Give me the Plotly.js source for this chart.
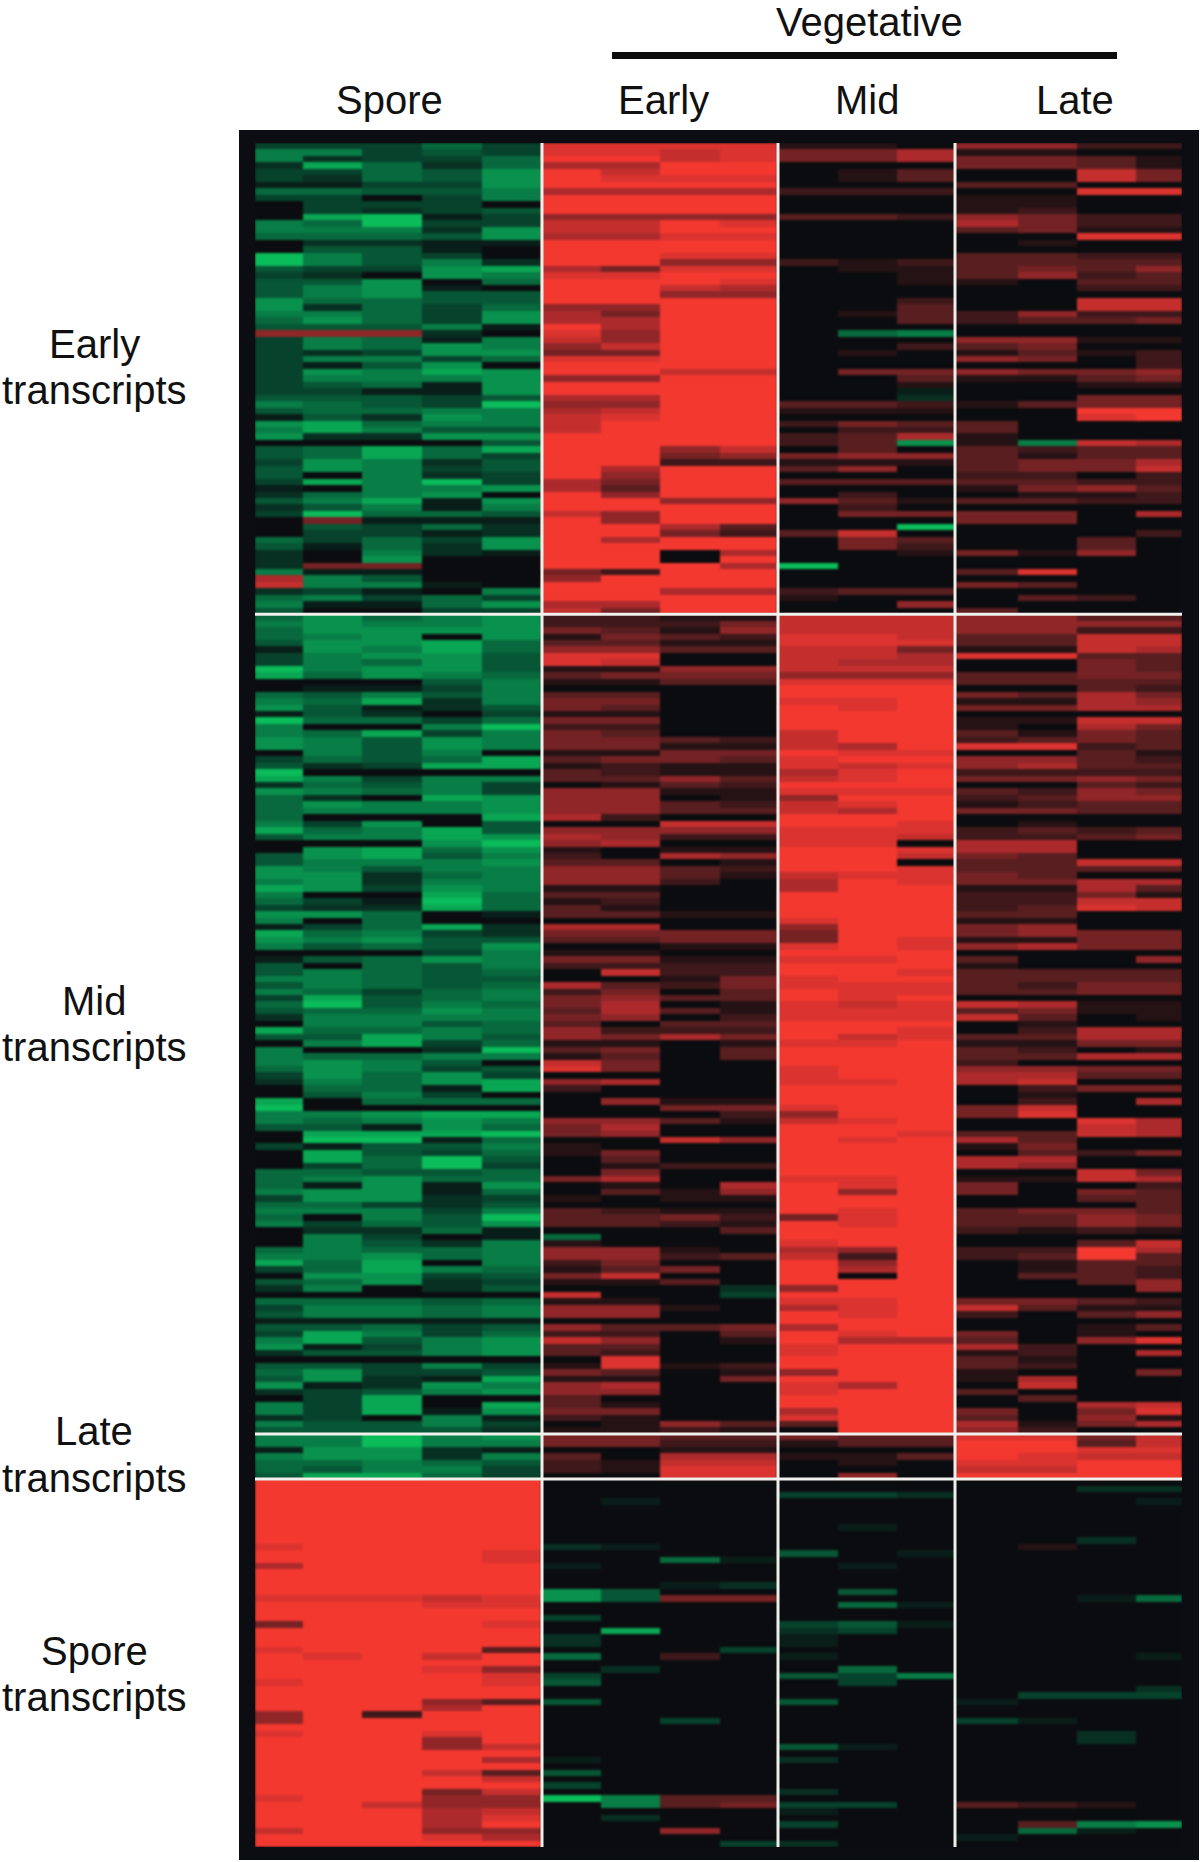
<!DOCTYPE html>
<html><head><meta charset="utf-8">
<script src="https://cdn.plot.ly/plotly-3.0.1.min.js"></script>
<style>html,body{margin:0;padding:0;background:#fff}#c{width:1200px;height:1862px}
#c .heatmaplayer image{filter:blur(0.8px)}</style>
</head><body><div id="c"></div>
<script>
// Each row: spore(5) early(4) mid(3) late(4). Digits 1-9 = red level, letters a-i = green level 1-9, 0 = black.
var earlyRows = [
"cccec 8888 110 5522","ffcdc 8878 446 1100","fbcce 9978 446 4431","bhebe 6699 000 4431","ccedg 9799 013 0074",
"cbedg 9888 013 0074","aaccg 9999 000 3300","eeddf 6666 222 0088","cc0cf 9999 000 1100","0ccc0 9999 000 1100",
"0cbcd 9999 000 1200","0hiac 5555 332 5422","feicc 7798 000 6422","fffbg 7799 000 3411","eeedg 6688 000 0088",
"0bbaa 9999 000 0100","0dda0 9999 000 0000","ifdc0 9988 000 3322","ifdfb 9955 212 3333","dccgh 6488 011 3435",
"cb0gf 8899 001 3523","ddg0e 9998 001 1033","dfga0 9976 000 0022","dfgdd 9955 000 0000","geedd 9999 002 0077",
"gbece 5599 003 0077","ffecg 6499 013 2522","egecg 6699 003 2334","dddfa 9699 000 0000","555b0 8599 0ef 0000",
"cfeaf 7599 000 5511","cfegf 5799 002 3400","cbcgg 4499 010 1312","cffce 8899 000 5402","cadg0 9999 000 0002",
"cgfhg 9977 044 5445","cfffg 5599 003 1134","cdeag 9999 001 0011","ccaag 9999 00a 0000","dddcd 6699 00b 0044",
"fedci 5599 332 1344","deeff 6799 111 0099","adbgf 7899 000 0089","gheff 7999 243 3000","fhfdd 7999 022 3000",
"gbbgg 9999 236 1000","0000d 9999 23g 1f76","deheh 9957 030 3233","dehec 9945 455 3133","cgfbd 9922 111 3446",
"dgfcd 9699 350 3447","d0fbc 9599 000 2202","chfic 6499 333 3322","a0ffg 6399 000 1453","befg0 9599 020 0112",
"dfhag 9955 531 3322","bdfaf 9999 020 0000","cieed 7599 044 4406","04aaa 9599 000 4400","0dceb 9963 00i 0000",
"0ccab 9942 370 0002","ececg 9699 043 0030","daebg 9999 042 0030","b0fba 9906 001 4150","b0g00 9909 000 0000",
"b4400 9996 i00 0000","faa00 4299 000 3800","6fd00 5999 000 0000","7ffa0 9999 000 4300","bca0f 9966 233 0000",
"efcec 9999 100 0320","faaeg 6699 005 0000","d00cc 7499 000 3000"
];
var midRows = [
"egefg 2211 777 5533","fgffg 2224 777 5555","egggg 4315 777 5522","efg0g 1432 887 3377","dgghe 3311 888 3377",
"agfhe 5533 774 1176","cfggd 8800 776 8833","cfegd 8700 766 0043","ifggd 1155 777 0043","hegfe 3444 555 3344",
"000df 1133 888 3333","0aacf 0000 999 0032","edfdf 3300 999 4364","fehbf 4400 889 1165","gdabd 4300 989 4466",
"adb0c 1100 999 0000","ieece 4400 999 1177","f00fi 2200 999 1064","fehcf 4300 799 3143","gfdgf 4432 799 2343",
"gfdgf 4411 769 8823","0fdf0 1144 988 0031","cedeh 3443 899 5532","dbchh 1211 878 5633","i0000 3211 689 2222",
"hfcff 3353 789 4454","bedfc 0132 999 0032","gfefc 5511 888 3254","eb0hg 5501 599 2355","egffg 5532 789 1233",
"efffg 5533 769 4433","e000h 6200 999 0000","fcg0d 0077 998 0100","hefhd 5555 888 2323","dffhg 6522 887 2234",
"000gi 5600 880 6600","0gheg 1011 998 6600","dghdf 2065 997 4300","dfffg 3301 990 3377","gfdff 5532 998 3333",
"ggbef 5531 788 4300","fgbff 5520 698 4466","hgcgf 1100 699 1163","f00he 3300 999 2241","ecaie 1200 999 2277",
"cbbhe 3100 999 2387","gge0a 3311 999 3300","f0e00 0000 899 1100","acehb 6600 599 4500","hefcb 4444 499 4544",
"gfgdd 3344 498 1144","fdedg 0011 898 5644","000cf 1100 999 0000","adegf 4411 889 3005","d0edf 2222 999 1000",
"dfede 0722 998 3333","ffedd 0014 899 3333","dfede 6324 888 3244","fecef 2403 988 3344","chdef 4533 989 0000",
"eidfe 4601 878 7611","deegf 3631 888 3411","bffff 4502 888 7301","0ffde 3033 999 0100","heefe 5222 998 0266",
"ddhfd 5464 978 3366","0fhce 1101 889 1144","f00bi 3403 999 3201","feeff 1303 999 3366","fgfd0 7400 999 2000",
"egfcd 8400 899 5544","cgegc 0000 899 6633","bfegh 5600 889 6700","0eeah 2000 999 0244","0dfc0 0000 999 0100",
"h0eee 0511 999 0206","i0000 0044 899 4700","ffghh 0002 599 4800","fefgf 5531 789 0086","ddage 4600 999 0076",
"0hhhi 4500 998 3376","0iiae 0075 989 6300","caddf 1000 999 1400","0hdce 1400 999 0324",
"0heid 0300 999 6600","0ceic 0122 999 6500","eedde 0400 999 0074","efgee 4600 889 1176","eagag 0106 989 4002",
"fggae 0315 959 4043","cggbc 1011 999 0033","eecbd 0000 999 0003","fffcf 3211 989 3443","e0fdi 3342 489 3354",
"fcedg 3321 989 3354","0bbea 0003 999 2121","0fc0a e000 999 0000","0fdbf 1000 899 0037","efeef 5510 659 2296",
"ffgef 5523 729 2393","heh0f 2400 959 0133","cehfe 1340 969 0132","0ggcd 4700 909 0332","degbc 1130 999 0035",
"bf0bd 000b 599 0005","00000 700c 999 0000","eeede 1100 889 4432","cffef 5510 689 7311","dffef 5500 989 2035",
"aaaaa 0000 999 0000","ddecd 5334 699 0013","chfce 2203 989 4010","fhdfg 7501 966 3058","gacfg 3300 899 6200",
"bddfg 3200 899 1206","00000 0800 999 3100","ddcfc 1812 999 3200","egccd 4301 599 1004","dgbah 1104 999 1600",
"gabgf 5600 869 0700","bcdfg 5500 899 3000","0ch00 3000 999 0300","fch0h 3100 999 0067",
"fchag 4400 699 4048","bc0fa 2100 899 3051","fddfc 0153 399 6146","ddddb 1121 099 5200"
];
var lateRows = [
"ffifg 4433 433 8847","ffiff 4422 133 9937","aggba 0011 000 9988","fggbf 3066 113 9877",
"eefed 2177 010 8899","edffc 2188 000 7799","dhhec 0088 050 9999"
];
var sporeRows = [
"99999 0000 000 0000","99999 0000 000 00bb","99999 0000 ccb 0000","99999 0a00 000 000a","99999 0000 000 0000",
"99999 0000 000 0000","99999 0000 000 0000","99999 0000 0a0 0000","99999 0000 000 0000","99999 0000 000 00b0",
"89999 ba00 000 0100","99998 0000 d0a 0000","99998 00ea 000 0000","69999 a000 0a0 0000","99999 0000 000 0000",
"99999 0000 000 0000","99999 00ab 000 0000","99999 gd00 0d0 0000","88878 gd44 000 00ae","99988 0000 0ea 0000",
"99999 0000 000 0000","99999 c000 000 0000","49998 0000 cda 0000","99999 0h00 bc0 0000","99999 b000 a00 0000",
"99999 b000 a00 0000","89993 000c 000 0000","98979 e020 a00 000a","99999 0000 000 0000","99985 0b00 0e0 0000",
"99998 c000 dcf 0000","89998 d000 0c0 0000","99999 0000 000 000b","99999 0000 000 0ccc","99953 d000 d00 a000",
"99969 0000 000 0000","59299 0000 000 0000","59999 00c0 000 ca00","99999 0000 000 0000","89989 0000 000 00b0",
"99959 0000 000 00b0","99957 0000 da0 0000","99999 0000 000 0000","99996 a000 b00 0000","99999 0000 000 0000",
"99973 d000 000 0000","99997 0000 000 0000","99999 c000 000 0000","99947 0000 b00 0000","89955 if33 000 0000",
"99755 0f34 cc0 3210","99967 0000 a00 0000","99968 0b00 000 0000","99969 0000 c00 03fg","79955 0050 000 0ea0",
"99986 0000 000 a000","99999 000c b00 0000"
];
var sideLabels = ["Early","transcripts","Mid","transcripts","Late","transcripts","Spore","transcripts"];
var sideLabelY = [344,390,1001,1047,1431,1478,1651,1697];
var topLabels = ["Vegetative","Spore","Early","Mid","Late"];
var topLabelX = [869,389,663,867,1075];
var topLabelY = [22,100,100,100,100];

var W = 1200, H = 1862;
var columnEdges = [255,303,362,422,482,541,601,660,720,777,838,897,955,1018,1077,1136,1182];
var plotTop = 143, plotBottom = 1847;

function decode(ch){
  if (ch >= '0' && ch <= '9') return +ch;
  return -(ch.charCodeAt(0) - 96);
}
var allRows = earlyRows.concat(midRows, lateRows, sporeRows);
var z = allRows.map(function(r){ return r.replace(/ /g,'').split('').map(decode); });
var nRows = z.length;
var splits = [earlyRows.length, earlyRows.length+midRows.length, earlyRows.length+midRows.length+lateRows.length];
var vLines = [542,778,955];

var trace = {
  type:'heatmap', z:z, x:columnEdges, y0:0.5, dy:1, zmin:-9, zmax:9, showscale:false, hoverinfo:'skip',
  zsmooth:false,
  colorscale:[[0,'rgb(10,188,90)'],[1/6,'rgb(8,125,70)'],[1/3,'rgb(6,66,44)'],[0.5,'rgb(11,12,15)'],
              [2/3,'rgb(88,30,32)'],[5/6,'rgb(172,42,44)'],[1,'rgb(243,56,48)']]
};
var shapes = [
  {type:'rect',xref:'paper',yref:'paper',x0:239/W,x1:1199/W,y0:1-1860/H,y1:1-130/H,fillcolor:'#0b0d12',line:{width:0},layer:'below'},
  {type:'rect',xref:'paper',yref:'paper',x0:612/W,x1:1117/W,y0:1-59/H,y1:1-52/H,fillcolor:'#0d0d0d',line:{width:0}}
];
vLines.forEach(function(x){
  shapes.push({type:'line',xref:'x',yref:'y',x0:x,x1:x,y0:0,y1:nRows,line:{color:'#eeeeea',width:3}});
});
splits.forEach(function(r){
  shapes.push({type:'line',xref:'x',yref:'y',x0:columnEdges[0],x1:columnEdges[16],y0:r,y1:r,line:{color:'#f0f0ec',width:3}});
});
var font = {family:'"Liberation Sans", Arial, sans-serif', size:40, color:'#111'};
var ann = [];
sideLabels.forEach(function(t,i){
  ann.push({text:t,xref:'paper',yref:'paper',x:94/W,y:1-sideLabelY[i]/H,xanchor:'center',yanchor:'middle',showarrow:false,font:font});
});
topLabels.forEach(function(t,i){
  ann.push({text:t,xref:'paper',yref:'paper',x:topLabelX[i]/W,y:1-topLabelY[i]/H,xanchor:'center',yanchor:'middle',showarrow:false,font:font});
});
var layout = {
  width:W,height:H,margin:{l:0,r:0,t:0,b:0},paper_bgcolor:'#fff',plot_bgcolor:'rgba(0,0,0,0)',showlegend:false,
  xaxis:{domain:[columnEdges[0]/W,columnEdges[16]/W],range:[columnEdges[0],columnEdges[16]],visible:false,fixedrange:true},
  yaxis:{domain:[1-plotBottom/H,1-plotTop/H],range:[nRows,0],visible:false,fixedrange:true},
  shapes:shapes,annotations:ann
};
Plotly.newPlot('c',[trace],layout,{displayModeBar:false,staticPlot:true});
</script></body></html>
